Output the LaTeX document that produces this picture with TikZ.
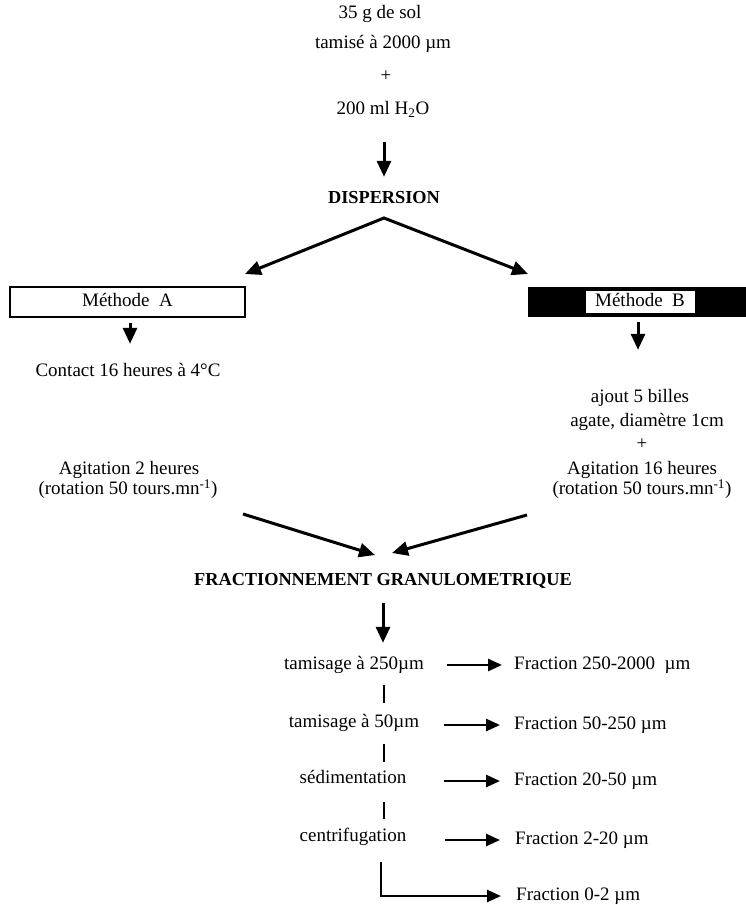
\documentclass[tikz,border=0pt]{standalone}
\usepackage{fontspec}
\setmainfont{Liberation Serif}
\usetikzlibrary{arrows.meta}
\begin{document}
\begin{tikzpicture}[x=1pt,y=-1pt,
  txt/.style={font=\fontsize{19}{22}\selectfont, inner sep=0pt, text height=13pt, text depth=4pt},
  head/.style={font=\fontsize{18.3}{22}\selectfont\bfseries, inner sep=0pt, text height=13pt, text depth=4pt},
  arr/.style={line width=3pt, -{Triangle[length=16pt,width=14pt]}},
  harr/.style={line width=2.6pt, -{Triangle[length=14pt,width=12pt]}},
  seg/.style={line width=2.6pt}]
\useasboundingbox[fill=white] (0,0) rectangle (746,905);

% top block
\node[txt] (sol) at (380,14) {35 g de sol};
\node[txt] (tam) at (383,44) {tamisé à 2000 µm};
\node[txt] (plus) at (386,77) {+};
\node[txt] (eau) at (383,110) {200 ml H\textsubscript{2}O};
\node[head] (disp) at (384,199) {DISPERSION};
\draw[arr, shorten <=23.5pt, shorten >=13.5pt] (eau.south -| disp.south) -- (disp.north);

% split
\coordinate (apex) at (384,218);
\coordinate (al) at (245,274);
\coordinate (ar) at (528,274);
\draw[line width=3pt, {Triangle[length=16pt,width=14pt]}-{Triangle[length=16pt,width=14pt]}, line join=miter] (al) -- (apex) -- (ar);

% method boxes
\node[draw, line width=1.5pt, minimum width=235pt, minimum height=30pt, txt] (ma) at (127.5,302) {Méthode\enspace A};
\node[fill=black, minimum width=218pt, minimum height=30pt, inner sep=0pt] (mbbg) at (637,302) {};
\node[fill=white, txt, minimum width=109pt, minimum height=22pt] (mb) at (640,302) {Méthode\enspace B};

% method A column
\node[txt] (contact) at (128,372) {Contact 16 heures à 4°C};
\node[txt] (agA) at (129,470) {Agitation 2 heures};
\node[txt] (rotA) at (128,490) {(rotation 50 tours.mn\textsuperscript{-1})};
\draw[arr, shorten <=5pt, shorten >=19.5pt] ([xshift=2.5pt]ma.south) -- ([xshift=2.5pt]ma.south |- contact.north);

% method B column
\node[txt] (ajout) at (640,398) {ajout 5 billes};
\node[txt] (agate) at (647,422) {agate, diamètre 1cm};
\node[txt] (plusB) at (642,445) {+};
\node[txt] (agB) at (642,470) {Agitation 16 heures};
\node[txt] (rotB) at (642,490) {(rotation 50 tours.mn\textsuperscript{-1})};
\draw[arr, shorten <=5pt, shorten >=39.5pt] ([xshift=1pt]mbbg.south) -- ([xshift=1pt]mbbg.south |- ajout.north);

% converge
\coordinate (cl) at (243,514);
\coordinate (cr) at (527,515);
\coordinate (tl) at (375,555);
\coordinate (tr) at (392,553);
\draw[arr] (cl) -- (tl);
\draw[arr] (cr) -- (tr);

\node[head] (fr) at (383,581) {FRACTIONNEMENT GRANULOMETRIQUE};

% fractionation steps
\node[txt] (t250) at (354,665) {tamisage à 250µm};
\node[txt] (t50) at (354,723) {tamisage à 50µm};
\node[txt] (sed) at (353,779) {sédimentation};
\node[txt] (cen) at (353,837) {centrifugation};
\draw[arr, shorten <=13.5pt, shorten >=13.5pt] ([xshift=0pt]fr.south) -- ([xshift=0pt]fr.south |- t250.north);

\node[txt, anchor=west] (f1) at (514,665) {Fraction 250-2000\ \ µm};
\node[txt, anchor=west] (f2) at (514,725) {Fraction 50-250 µm};
\node[txt, anchor=west] (f3) at (514,781) {Fraction 20-50 µm};
\node[txt, anchor=west] (f4) at (515,840) {Fraction 2-20 µm};
\node[txt, anchor=west] (f5) at (516,896) {Fraction 0-2 µm};

\draw[harr] ([xshift=-67pt]f1.west) -- ([xshift=-12pt]f1.west);
\draw[harr] ([xshift=-70pt]f2.west) -- ([xshift=-14pt]f2.west);
\draw[harr] ([xshift=-70pt]f3.west) -- ([xshift=-14pt]f3.west);
\draw[harr] ([xshift=-70pt]f4.west) -- ([xshift=-15pt]f4.west);

\draw[seg, shorten <=11.5pt, shorten >=11.5pt] ([xshift=1pt]t250.south -| fr.south) -- ([xshift=1pt]t50.north -| fr.south);
\draw[seg, shorten <=12.5pt, shorten >=8.5pt] ([xshift=1pt]t50.south -| fr.south) -- ([xshift=1pt]sed.north -| fr.south);
\draw[seg, shorten <=14.5pt, shorten >=9.5pt] ([xshift=1pt]sed.south -| fr.south) -- ([xshift=1pt]cen.north -| fr.south);
\draw[harr, shorten <=16.5pt, shorten >=15pt] ([xshift=-2pt]cen.south -| fr.south) |- (f5.west);
\end{tikzpicture}
\end{document}
